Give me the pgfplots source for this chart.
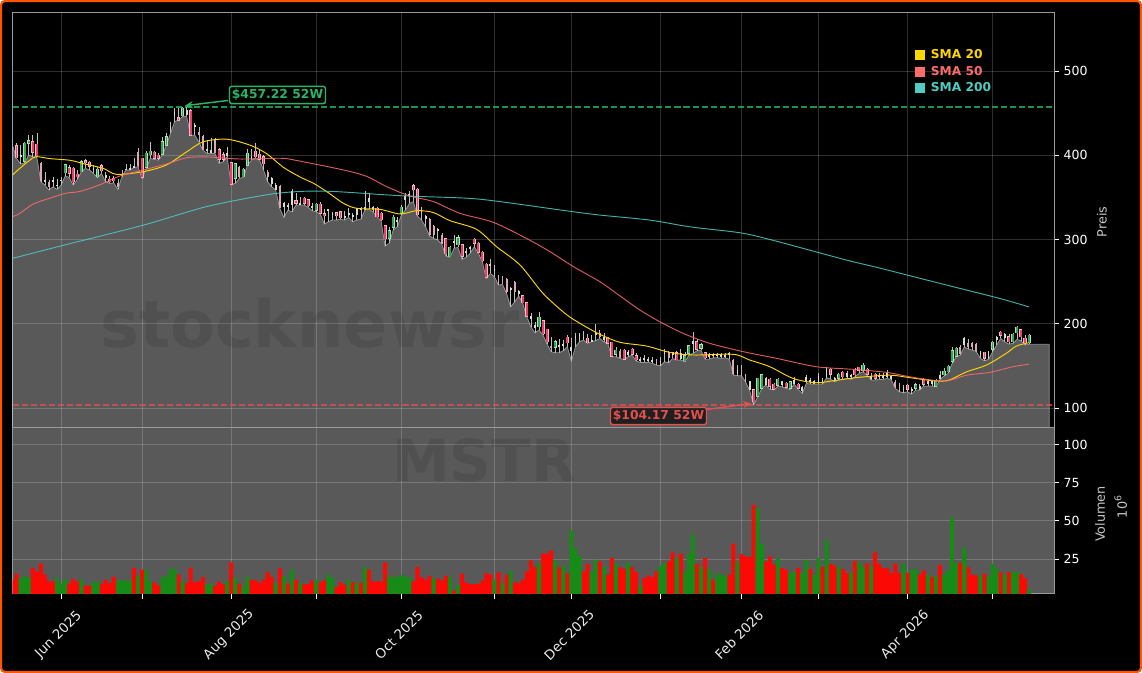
\documentclass[border=0pt]{standalone}
\usepackage{fontspec}
\setmainfont{DejaVu Sans}
\usepackage{pgfplots}
\usepackage{pgfplotstable}
\pgfplotsset{compat=1.18}
\usetikzlibrary{arrows.meta}
\definecolor{frameor}{HTML}{FF5500}
\definecolor{sa}{HTML}{FFD700}
\definecolor{sb}{HTML}{FF6B6B}
\definecolor{sc}{HTML}{4ECDC4}
\definecolor{hig}{HTML}{2BB463}
\definecolor{lor}{HTML}{E25050}
\definecolor{pk}{HTML}{E8406A}
\definecolor{pko}{HTML}{F2BBC8}
\definecolor{gr}{HTML}{2EA84F}
\definecolor{gro}{HTML}{B0E0B8}
\definecolor{pkp}{HTML}{DCA8B6}
\definecolor{grp}{HTML}{D8DED2}
\definecolor{spine}{HTML}{9A9A9A}
\definecolor{vr}{HTML}{FB0A05}
\definecolor{vg}{HTML}{178A17}
\pgfplotstableread{
i o h l c k
0 418.1 420.8 412.1 414.9 3
1 411.3 414.1 396.3 397.1 0
2 398.3 412.1 389.6 400.3 3
3 393.1 416.1 391.2 414.1 1
4 414.1 424.0 400.3 417.3 1
5 416.1 424.0 398.3 403.4 0
6 412.9 426.0 398.3 399.5 0
7 391.2 392.4 368.6 369.0 2
8 370.6 380.5 364.7 369.0 3
9 368.6 370.6 358.7 362.7 2
10 370.6 373.8 362.7 368.6 3
11 364.7 371.4 359.5 363.5 3
12 370.6 373.8 364.7 369.8 3
13 379.3 389.6 375.3 388.4 1
14 385.2 388.4 373.8 378.5 0
15 384.4 386.4 364.7 368.6 0
16 377.7 382.5 371.4 374.5 0
17 380.5 394.3 380.5 392.3 1
18 393.5 395.1 384.4 391.2 0
19 391.6 393.5 382.5 387.2 0
20 384.4 388.4 378.5 383.2 3
21 374.5 386.4 373.4 383.2 1
22 387.6 389.6 378.5 381.7 0
23 376.5 380.5 368.6 373.8 3
24 371.4 375.3 366.6 368.6 0
25 372.6 375.3 367.4 369.8 0
26 366.6 371.4 359.5 362.7 2
27 377.7 382.5 374.5 375.7 3
28 383.2 389.6 382.5 382.5 3
29 384.4 389.6 382.5 383.2 3
30 387.2 396.3 385.6 385.6 3
31 404.2 408.2 386.4 387.2 2
32 396.3 396.3 372.6 373.8 0
33 385.6 405.4 384.4 402.2 1
34 400.3 416.1 396.3 405.0 1
35 403.4 405.0 395.1 396.3 0
36 399.9 402.2 394.3 396.3 0
37 401.4 422.0 400.3 416.1 1
38 412.1 426.0 412.1 422.0 1
39 429.9 439.8 426.0 434.7 3
40 446.9 455.6 439.8 450.9 3
41 444.6 455.6 441.8 441.8 0
42 446.9 456.8 445.8 455.6 1
43 453.7 457.22 446.5 447.7 3
44 452.9 454.5 424.0 424.0 0
45 435.9 437.8 424.0 433.9 3
46 428.0 433.9 416.1 424.0 2
47 423.2 424.0 406.2 406.2 2
48 407.0 418.1 402.2 405.0 3
49 406.2 420.0 402.2 403.0 3
50 418.9 420.0 402.2 403.0 2
51 406.2 408.2 390.4 395.1 0
52 400.3 404.2 392.3 395.1 0
53 399.5 410.1 398.3 402.2 3
54 391.2 392.4 365.4 365.4 0
55 372.6 390.4 366.6 389.6 1
56 385.6 387.2 372.6 373.8 2
57 374.5 384.4 373.8 383.2 1
58 388.4 407.0 388.4 402.2 1
59 398.3 407.0 394.3 396.3 3
60 405.0 414.1 396.3 398.3 0
61 401.0 406.2 394.3 395.1 0
62 398.3 400.3 382.5 389.6 0
63 380.1 382.5 368.6 373.8 2
64 372.6 373.8 362.7 366.6 3
65 364.7 366.6 358.7 359.5 3
66 363.5 364.7 337.0 337.0 2
67 342.9 344.9 326.3 339.0 3
68 340.9 342.9 335.0 339.0 3
69 340.9 359.5 333.0 356.7 3
70 345.7 354.8 340.9 342.9 0
71 342.9 350.8 340.9 340.9 3
72 348.9 350.9 341.0 342.9 0
73 346.9 347.7 338.2 339.8 0
74 339.0 342.9 334.2 337.8 3
75 335.0 343.7 333.0 342.1 1
76 342.1 344.9 330.3 331.1 0
77 330.3 335.8 318.4 327.9 0
78 335.8 335.8 321.2 334.2 3
79 330.7 333.0 323.2 329.5 3
80 331.9 333.0 323.2 328.3 0
81 333.0 334.2 324.0 325.9 0
82 327.1 334.2 323.2 325.5 3
83 331.1 337.0 326.3 329.1 3
84 328.7 331.9 321.2 327.5 3
85 329.1 337.0 323.2 337.0 3
86 335.8 338.2 324.0 335.0 3
87 338.2 358.0 335.0 335.8 3
88 348.9 354.8 335.8 344.9 3
89 338.2 339.8 333.0 335.8 3
90 337.0 338.2 327.1 327.1 0
91 331.1 333.0 322.4 323.2 0
92 316.4 317.2 292.3 300.6 0
93 301.4 315.2 295.5 310.1 1
94 314.5 329.1 311.3 326.3 1
95 323.2 327.1 315.2 321.2 3
96 331.1 341.0 329.1 338.2 1
97 347.7 354.8 335.0 351.6 3
98 352.4 358.0 342.9 354.0 3
99 363.5 365.9 344.9 358.8 0
100 359.6 360.7 327.9 329.1 0
101 335.0 338.2 323.2 333.0 3
102 327.1 329.1 315.2 325.1 3
103 323.9 325.1 304.2 305.4 2
104 316.0 317.2 301.4 305.4 2
105 312.1 313.3 299.4 310.5 3
106 305.4 307.3 294.7 294.7 2
107 300.6 301.4 280.4 282.8 0
108 279.6 292.3 278.9 290.7 1
109 298.2 305.4 289.5 296.3 3
110 293.5 305.4 290.7 302.2 1
111 293.5 294.7 276.5 280.4 0
112 286.4 289.5 278.9 284.8 3
113 290.7 292.3 283.6 289.1 3
114 300.2 301.4 291.5 295.5 0
115 295.5 296.7 284.4 284.8 0
116 284.8 286.8 273.7 274.9 0
117 270.5 272.5 253.9 255.1 0
118 270.5 276.5 259.9 269.0 3
119 264.6 269.8 255.9 263.0 3
120 255.9 257.9 246.0 246.0 2
121 255.1 256.7 246.8 248.0 2
122 252.7 253.9 236.1 238.1 2
123 242.1 244.0 220.3 240.1 3
124 250.0 251.2 226.2 238.1 2
125 238.9 240.1 233.0 236.1 3
126 233.4 234.1 224.3 225.1 0
127 225.1 225.8 208.4 209.2 0
128 208.4 212.4 196.6 206.5 3
129 197.8 202.5 189.4 195.8 3
130 196.6 214.4 192.6 207.6 1
131 203.3 204.5 186.7 187.9 0
132 193.4 194.2 176.0 178.4 0
133 173.6 184.7 166.9 170.9 2
134 172.0 180.7 165.7 178.8 1
135 174.8 181.5 165.7 172.8 3
136 176.0 180.7 168.1 174.0 3
137 183.9 186.7 172.8 177.6 0
138 168.5 182.7 156.2 172.0 3
139 185.5 188.7 172.8 183.9 3
140 186.7 189.4 178.8 184.7 3
141 183.5 191.4 180.7 181.9 3
142 182.7 187.9 176.8 177.6 0
143 180.7 186.7 178.8 179.2 3
144 188.7 199.7 180.0 186.7 3
145 188.7 192.6 182.7 184.7 2
146 183.9 188.6 178.7 180.7 3
147 182.7 184.7 176.7 176.7 0
148 177.9 178.7 160.9 161.7 0
149 164.1 172.0 160.9 168.8 1
150 168.0 169.6 158.9 158.9 2
151 168.8 169.6 157.8 158.1 0
152 166.0 168.8 160.9 163.7 3
153 169.6 170.8 162.9 164.1 0
154 162.1 164.9 155.8 157.0 0
155 158.1 160.9 154.2 156.2 3
156 158.9 162.9 154.2 157.0 3
157 157.8 160.9 154.2 155.8 3
158 157.0 160.9 153.0 155.0 3
159 157.0 157.8 151.0 152.2 2
160 155.0 160.9 150.2 153.0 3
161 166.9 169.6 155.0 164.9 3
162 164.9 167.6 153.8 158.9 2
163 165.7 166.9 158.9 162.9 3
164 165.7 167.2 157.0 157.0 0
165 158.1 169.6 157.0 164.9 3
166 156.2 166.9 155.0 162.1 1
167 164.9 174.8 162.9 173.6 1
168 178.7 190.6 164.9 176.7 3
169 178.7 181.5 168.0 169.6 0
170 170.8 176.7 168.8 174.8 1
171 165.7 166.9 157.8 159.7 0
172 162.9 165.7 157.8 160.9 3
173 163.7 165.7 159.7 161.7 3
174 163.7 165.7 159.7 161.7 3
175 162.9 165.7 158.9 160.9 3
176 162.9 165.7 159.7 160.9 3
177 164.9 166.9 157.8 162.9 3
178 157.0 157.8 139.2 140.3 2
179 145.1 151.0 138.4 140.3 3
180 149.1 151.0 138.4 140.3 2
181 139.2 140.3 131.2 131.2 2
182 132.0 132.4 121.4 121.4 3
183 121.4 122.2 104.17 107.5 0
184 114.2 136.0 113.4 135.2 1
185 123.3 139.2 123.3 139.2 1
186 135.2 137.2 127.3 127.3 3
187 134.4 135.2 122.2 126.1 0
188 128.5 130.0 121.4 122.2 0
189 127.3 135.2 126.1 134.4 1
190 131.2 132.0 125.3 127.3 3
191 129.3 131.2 123.3 124.5 0
192 123.3 132.0 122.2 131.2 1
193 132.4 137.2 128.5 129.3 3
194 128.5 129.3 122.2 123.3 0
195 120.2 126.1 117.4 124.5 3
196 136.4 139.2 129.3 131.2 3
197 133.2 135.2 128.5 130.9 3
198 131.2 133.2 128.5 129.3 3
199 138.0 141.1 128.5 131.2 3
200 133.2 135.2 128.5 130.0 3
201 145.9 149.0 136.0 137.2 3
202 145.9 147.1 134.4 139.9 0
203 135.2 137.2 131.2 133.2 3
204 135.2 141.9 133.2 139.9 1
205 142.3 143.9 134.0 137.2 0
206 141.1 143.9 135.2 137.2 3
207 138.4 140.3 134.0 137.2 3
208 145.1 147.9 137.2 139.2 0
209 148.3 149.0 141.1 145.1 0
210 145.1 153.8 143.1 151.0 1
211 145.9 147.1 139.2 140.3 0
212 138.0 141.1 133.2 134.4 3
213 139.9 141.1 133.2 135.2 0
214 138.4 141.1 134.0 137.2 3
215 139.2 141.1 134.0 136.4 3
216 141.1 145.1 135.2 137.2 3
217 137.2 139.2 133.2 135.2 3
218 130.5 133.2 123.3 124.5 2
219 127.3 129.3 119.4 121.4 2
220 124.5 127.3 118.2 121.4 3
221 126.9 128.1 119.4 122.5 0
222 122.2 124.5 116.6 120.2 3
223 123.3 129.3 121.4 127.7 1
224 126.1 128.5 121.4 123.3 3
225 134.0 135.2 126.1 128.5 0
226 131.2 134.0 126.1 129.3 3
227 131.2 133.2 126.1 128.5 3
228 126.1 134.0 125.3 132.4 1
229 138.4 144.3 134.0 135.2 3
230 139.2 147.1 138.0 143.9 1
231 143.1 151.0 141.1 149.8 1
232 155.8 172.8 153.0 168.0 1
233 161.7 172.8 160.9 170.8 1
234 172.0 174.8 162.9 163.7 2
235 182.7 183.9 172.8 174.8 3
236 176.7 181.5 170.0 172.0 2
237 176.7 177.9 168.8 172.0 2
238 175.6 176.7 166.9 168.0 2
239 166.9 168.0 158.9 163.7 3
240 166.0 166.9 156.2 158.9 0
241 160.9 168.0 157.8 166.0 3
242 170.0 179.9 166.9 177.9 1
243 183.9 185.4 174.8 180.7 3
244 189.8 191.4 182.7 186.6 0
245 187.4 188.6 178.7 183.9 3
246 184.7 187.8 175.9 178.7 0
247 178.7 189.4 176.7 187.4 1
248 189.4 197.3 181.5 195.7 1
249 192.6 193.4 179.9 184.7 0
250 182.7 186.6 174.8 177.5 0
251 177.5 187.4 175.6 186.6 1
252 175.6 175.6 175.6 175.6 9
256 175.6 175.6 175.6 175.6 9
}\candles
\pgfplotstableread{
i v
0 376.5
1.8 384.4
4.3 394.3
5.9 398.3
9.2 396
14.2 394
17.5 390
22.4 384.4
25.7 377.3
32.3 380.5
38 388.4
43 404
47.1 416
52.9 419
58.6 412
62.7 402
66.9 385.6
71 374.2
74.3 366.7
77.6 356.8
81.7 343
85 337
90.7 335.8
95.7 330.3
99.8 334.2
103.9 332
108 322.4
114.6 312
119.5 291.5
125.3 269.8
131 236
136.5 212
140.1 200.5
145 187.5
150 178
156.5 173.6
162.3 166
168 162.9
178 163.7
182 157
187 149
192.8 135
198.5 130
203.5 133
209.2 136.5
216.6 139
221.6 136
227.3 132.4
231 132.8
235.6 143
240.5 151
245.4 165
247.9 173.6
251 177.5
}\smaA
\pgfplotstableread{
i v
0 327
1.8 331
5.1 342
9.2 349
13.3 355
16.6 357
21.6 365
26.5 375.3
32.3 382.5
38 389.6
43 397
47.9 398
51.2 397
56.1 395.5
61.9 396
66.9 396.3
71 393
81.7 382.5
87.4 375
92.4 362.7
98.1 351.6
103.9 345
110.5 331
118.7 320.4
127 301
132.7 285.6
138.5 267.8
145 250
150 233
155 216
159.8 202.5
165.6 188.6
172.2 176.7
180.4 166.9
188.6 159
198.5 149
207.6 145.9
215.8 142.3
221.6 137
227.3 133
231 132.4
235.6 139
241.3 142.3
247 149
251 152
}\smaB
\pgfplotstableread{
i v
0 277.6
13.3 294
32.3 317
47.9 339
62.7 353
71 357
79.2 357
95.7 352
112.1 349
120.3 345
136.8 334
145 329
157.4 323
167.3 315
179.6 308
187 300
199.4 284
206.8 274.5
214.2 266
224 254
233.9 242
243.8 230
251 220
}\smaC
\pgfplotstableread{
i v g
0 11.4 0
1 15.4 0
2 12.5 1
3 13.6 1
4 13.0 1
5 19.1 0
6 16.5 0
7 21.9 0
8 14.7 0
9 10.3 0
10 10.3 0
11 12.5 1
12 8.8 1
13 11.9 1
14 8.8 0
15 11.9 0
16 10.3 0
17 11.4 1
18 7.5 0
19 7.5 0
20 9.9 1
21 9.9 1
22 8.8 0
23 11.4 0
24 9.2 0
25 13.2 0
26 10.8 1
27 10.8 1
28 10.8 1
29 10.8 1
30 19.1 0
31 14.0 1
32 18.0 0
33 18.0 1
34 10.3 1
35 9.7 0
36 7.7 0
37 13.2 1
38 13.2 1
39 18.6 1
40 18.6 1
41 14.7 0
42 10.3 1
43 9.2 0
44 19.1 0
45 9.9 0
46 10.3 0
47 13.2 0
48 8.6 1
49 8.6 1
50 7.5 0
51 10.3 0
52 8.6 0
53 10.3 1
54 22.8 0
55 12.5 1
56 8.8 0
57 7.5 1
58 13.2 1
59 11.4 0
60 11.0 0
61 9.2 0
62 11.4 0
63 16.5 0
64 13.2 0
65 9.2 1
66 18.9 0
67 13.6 1
68 8.8 0
69 18.0 1
70 11.4 0
71 9.2 1
72 8.6 0
73 8.6 0
74 11.0 0
75 11.4 1
76 9.7 0
77 11.0 0
78 14.7 1
79 12.5 1
80 6.6 0
81 9.7 0
82 8.2 0
83 11.4 1
84 9.9 0
85 9.2 1
86 9.2 0
87 19.7 1
88 18.0 0
89 10.3 0
90 10.3 0
91 10.3 0
92 22.8 0
93 13.2 1
94 13.2 1
95 13.2 1
96 14.3 1
97 13.6 1
98 13.0 1
99 10.3 0
100 19.7 0
101 13.0 0
102 11.4 0
103 14.0 0
104 12.5 1
105 11.9 0
106 11.0 0
107 14.0 0
108 13.2 1
109 4.2 0
110 8.2 1
111 15.4 0
112 9.7 0
113 8.6 0
114 8.6 0
115 8.6 0
116 10.8 0
117 15.8 0
118 14.7 0
119 11.4 1
120 16.2 0
121 9.2 1
122 14.7 0
123 17.3 1
124 9.9 0
125 9.2 0
126 11.4 0
127 16.9 0
128 24.1 0
129 19.7 0
130 21.9 1
131 28.5 0
132 28.5 0
133 30.6 0
134 24.1 1
135 19.5 0
136 20.6 1
137 15.8 0
138 43.7 1
139 32.2 1
140 27.1 1
141 16.9 0
142 21.7 0
143 16.9 1
144 24.5 1
145 23.4 0
146 19.7 1
147 14.7 0
148 25.6 0
149 21.9 1
150 19.5 0
151 18.6 0
152 22.4 1
153 19.7 0
154 16.5 0
155 7.5 1
156 12.5 0
157 14.3 0
158 13.2 0
159 16.9 0
160 20.6 1
161 22.8 1
162 23.4 0
163 29.3 0
164 25.6 1
165 28.5 0
166 16.9 1
167 28.5 1
168 40.9 1
169 21.9 0
170 19.7 1
171 25.6 0
172 18.6 1
173 11.4 0
174 15.4 1
175 14.7 1
176 14.3 1
177 14.7 0
178 35.0 0
179 23.4 1
180 28.2 0
181 26.7 0
182 26.3 0
183 60.5 0
184 58.4 1
185 35.0 1
186 23.4 0
187 26.7 0
188 21.3 0
189 25.2 1
190 19.0 0
191 18.0 0
192 15.8 1
193 16.9 1
194 19.0 0
195 15.8 1
196 24.5 1
197 18.6 0
198 14.7 1
199 25.6 1
200 19.7 0
201 37.6 1
202 21.7 0
203 20.6 0
204 20.1 1
205 18.6 0
206 15.8 0
207 15.8 1
208 23.8 0
209 23.0 1
210 19.7 1
211 21.9 0
212 20.1 1
213 29.3 0
214 21.9 0
215 19.0 0
216 19.0 0
217 15.8 0
218 21.9 0
219 15.8 0
220 21.9 1
221 15.8 0
222 18.0 1
223 18.6 1
224 14.7 0
225 17.5 0
226 14.7 1
227 13.2 0
228 13.6 1
229 21.2 0
230 14.7 1
231 17.5 1
232 52.4 1
233 22.3 1
234 22.3 0
235 32.1 1
236 19.7 0
237 14.7 0
238 14.2 0
239 14.2 1
240 15.3 0
241 13.6 1
242 21.9 1
243 18.6 1
244 16.2 0
245 14.7 1
246 16.4 0
247 16.4 1
248 16.4 1
249 15.1 0
250 12.5 0
251 5.3 1
}\volumes
\pgfplotsset{
  panel/.style={
    scale only axis, anchor=south west, xmin=0, xmax=257.16,
    xtick={12,32,54,75,96,119,138,160,180,199,221,242},
    grid=major, grid style={white, opacity=.18, line width=.6pt},
    axis line style={spine, line width=.75pt},
    tick align=outside, major tick length=3.75pt,
    tick style={white, line width=.6pt},
    ytick pos=right, yticklabel pos=right,
    tick label style={white, font=\fontsize{9.4}{11}\selectfont},
    /pgf/number format/assume math mode=true,
    clip=true,
  },
  bodybar/.style 2 args={forget plot, only marks, mark=*, mark size=0pt, mark options={draw=none, fill=none}, error bars/.cd, y dir=plus, y explicit, error mark=none, error bar style={color=#1, line width=#2}},
}
\begin{document}
\begin{tikzpicture}[x=0.75pt,y=0.75pt]
\useasboundingbox (0,0) rectangle (1142,673);
\fill[white] (0,0) rectangle (1142,673);
\filldraw[fill=black, draw=frameor, line width=1.6pt, rounded corners=3pt] (1,1) rectangle (1141,672);

\begin{axis}[panel, at={(9.375pt,183.75pt)}, width=781.125pt, height=311.625pt,
  ymin=76.3, ymax=569.4, ytick={100,200,300,400,500},
  xticklabels={}, xtick style={draw=none},
  ylabel={Preis},
  every axis y label/.style={at={(rel axis cs:1.046,0.4958)}, rotate=90, anchor=center, color=lightgray!90!white, font=\fontsize{9.6}{11}\selectfont},
  legend style={at={(rel axis cs:0.8667,0.9165)}, anchor=north west, draw=none, fill=none, inner sep=0pt, outer sep=0pt, row sep=0pt, font=\bfseries\fontsize{9.15}{11}\selectfont, text opacity=1},
  legend cell align=left,
]
\addplot[forget plot, fill=white, fill opacity=.35, draw=white, draw opacity=.45, line width=.6pt] table[x=i,y=l] {\candles} \closedcycle;
\addplot[forget plot, hig, opacity=.8, line width=1.5pt, dash pattern=on 4.6pt off 2.2pt] coordinates {(0,457.22) (257.16,457.22)};
\addplot[forget plot, lor, opacity=.75, line width=1.5pt, dash pattern=on 4.6pt off 2.2pt] coordinates {(0,104.17) (257.16,104.17)};
% wicks
\addplot[bodybar={white!75!black}{.45pt}] table[x=i,y=l,y error plus expr=\thisrow{h}-\thisrow{l}] {\candles};
% bodies
\addplot[bodybar={pkp}{1.4pt}] table[x=i,y expr={\thisrow{k}==2 ? min(\thisrow{o},\thisrow{c}) : nan},y error plus expr={abs(\thisrow{o}-\thisrow{c})}] {\candles};
\addplot[bodybar={grp}{1.4pt}] table[x=i,y expr={\thisrow{k}==3 ? min(\thisrow{o},\thisrow{c})-0.5 : nan},y error plus expr={abs(\thisrow{o}-\thisrow{c})+1}] {\candles};
\addplot[bodybar={pko}{2.3pt}] table[x=i,y expr={\thisrow{k}==0 ? min(\thisrow{o},\thisrow{c})-0.6 : nan},y error plus expr={abs(\thisrow{o}-\thisrow{c})+1.2}] {\candles};
\addplot[bodybar={gro}{2.3pt}] table[x=i,y expr={\thisrow{k}==1 ? min(\thisrow{o},\thisrow{c})-0.6 : nan},y error plus expr={abs(\thisrow{o}-\thisrow{c})+1.2}] {\candles};
\addplot[bodybar={pk}{1.3pt}] table[x=i,y expr={\thisrow{k}==0 ? min(\thisrow{o},\thisrow{c}) : nan},y error plus expr={abs(\thisrow{o}-\thisrow{c})}] {\candles};
\addplot[bodybar={gr}{1.3pt}] table[x=i,y expr={\thisrow{k}==1 ? min(\thisrow{o},\thisrow{c}) : nan},y error plus expr={abs(\thisrow{o}-\thisrow{c})}] {\candles};
% moving averages
\addplot[sa, line width=.7pt, smooth, tension=.5, legend image code/.code={\fill[sa, opacity=1] (0pt,-3.4pt) rectangle (6.8pt,3.4pt);}] table[x=i,y=v] {\smaA};
\addlegendentry{\hspace*{2.3pt}\textcolor{sa}{SMA 20}}
\addplot[sb, line width=.7pt, smooth, tension=.5, opacity=.85, legend image code/.code={\fill[sb, opacity=1] (0pt,-3.4pt) rectangle (6.8pt,3.4pt);}] table[x=i,y=v] {\smaB};
\addlegendentry{\hspace*{2.3pt}\textcolor{sb}{SMA 50}}
\addplot[sc, line width=.7pt, smooth, tension=.5, opacity=.85, legend image code/.code={\fill[sc, opacity=1] (0pt,-3.4pt) rectangle (6.8pt,3.4pt);}] table[x=i,y=v] {\smaC};
\addlegendentry{\hspace*{2.3pt}\textcolor{sc}{SMA 200}}
\end{axis}

\begin{axis}[panel, at={(9.375pt,59.25pt)}, width=781.125pt, height=124.5pt,
  ymin=2.05, ymax=110.9, ytick={25,50,75,100},
  xticklabels={Jun 2025,,Aug 2025,,Oct 2025,,Dec 2025,,Feb 2026,,Apr 2026,},
  xtick pos=bottom,
  xticklabel style={xshift=-1.8pt, yshift=-27pt, rotate=45, anchor=center, color=white!92!black, font=\fontsize{10}{12}\selectfont},
  axis background/.style={fill=white, fill opacity=.35},
  ylabel={Volumen},
  every axis y label/.style={at={(rel axis cs:1.0442,0.482)}, rotate=90, anchor=center, color=lightgray!90!white, font=\fontsize{9.6}{11}\selectfont},
]
\addplot[ybar, bar width=1, bar shift=0pt, fill=vr, draw=none, forget plot] table[x=i,y expr={\thisrow{g}==0 ? \thisrow{v} : nan}] {\volumes};
\addplot[ybar, bar width=1, bar shift=0pt, fill=vg, draw=none, forget plot] table[x=i,y expr={\thisrow{g}==1 ? \thisrow{v} : nan}] {\volumes};
\end{axis}

% watermarks
\node[anchor=base west, inner sep=0pt, text=black, text opacity=.09, font=\bfseries\fontsize{49}{54}\selectfont] at (100,325) {stocknewsr};
\node[anchor=base west, inner sep=0pt, text=black, text opacity=.09, font=\bfseries\fontsize{43.5}{50}\selectfont] at (392,191) {MSTR};

% exponent of the volume axis
\node[rotate=90, anchor=center, text=lightgray!90!white, inner sep=0pt, font=\fontsize{9.6}{11}\selectfont] at (1120.7,166) {10\raisebox{.42em}{\fontsize{7}{8}\selectfont 6}};

% annotations
\draw[hig, line width=1.1pt, -{Stealth[length=6pt,width=5.5pt]}] (228,572.5) -- (185,567.3);
\node[draw=hig, fill=black, fill opacity=.9, text opacity=1, text=hig, line width=1.1pt, rounded corners=1.8pt, minimum width=72pt, minimum height=13pt, inner sep=0pt, font=\bfseries\fontsize{9.25}{11}\selectfont] at (277.5,578) {\$457.22 52W};
\draw[lor, line width=1.1pt, -{Stealth[length=6pt,width=5.5pt]}] (707,263.5) -- (751,269.5);
\node[draw=lor, fill=black!90!white, fill opacity=.9, text opacity=1, text=lor, line width=1.1pt, rounded corners=1.8pt, minimum width=72pt, minimum height=13pt, inner sep=0pt, font=\bfseries\fontsize{9.25}{11}\selectfont] at (658.5,257) {\$104.17 52W};
\end{tikzpicture}
\end{document}
